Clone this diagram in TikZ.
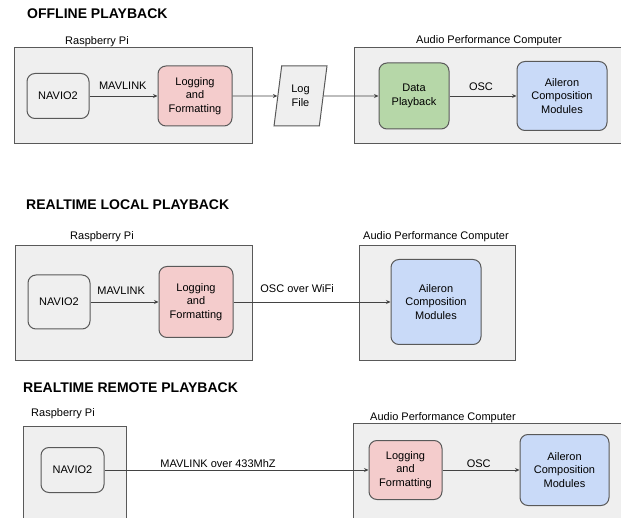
\documentclass[tikz,border=0pt]{standalone}
\usepackage{fontspec}
\setmainfont{Liberation Sans}
\usetikzlibrary{shapes.geometric,arrows.meta}
\definecolor{grpfill}{HTML}{EFEFEF}
\definecolor{edgec}{HTML}{595959}
\definecolor{linec}{HTML}{434343}
\definecolor{pinkf}{HTML}{F4CCCC}
\definecolor{greenf}{HTML}{B6D7A8}
\definecolor{bluef}{HTML}{C9DAF8}
\begin{document}
\begin{tikzpicture}[x=1pt,y=-1pt,
  txt/.style={font=\fontsize{11}{13.5}\selectfont},
  ttl/.style={font=\fontsize{14}{17}\selectfont\bfseries, anchor=base west, inner sep=0pt},
  glabel/.style={txt, anchor=base, inner sep=0pt},
  grp/.style={draw=edgec, fill=grpfill, line width=1pt, anchor=north west, inner sep=0pt},
  box/.style={draw=edgec, line width=1pt, rounded corners=8pt, align=center, txt, inner sep=0pt},
  plain/.style={box, fill=grpfill},
  pink/.style={box, fill=pinkf},
  green/.style={box, fill=greenf},
  blue/.style={box, fill=bluef},
  arr/.style={draw=linec, line width=0.9pt, -{Stealth[length=4.5pt,width=4pt]}},
  elbl/.style={txt, anchor=base, inner sep=0pt}]
\useasboundingbox (0,0) rectangle (621,518);
\clip (0,0) rectangle (621,518);

% ---------- Section 1 ----------
\node[ttl] (t1) at (27,19) {OFFLINE PLAYBACK};
\node[grp, minimum width=238pt, minimum height=96pt] (rpi1) at (14,47) {};
\node[glabel] (rpi1l) at (97,45) {Raspberry Pi};
\node[grp, minimum width=271pt, minimum height=96pt] (apc1) at (354,47) {};
\node[glabel] (apc1l) at (489,44) {Audio Performance Computer};
\node[plain, minimum width=62pt, minimum height=45pt] (nav1) at (58,96) {NAVIO2};
\node[pink, minimum width=74pt, minimum height=60pt] (log1) at (195,96) {Logging\\and\\Formatting};
\node[draw=edgec, fill=grpfill, line width=1pt, trapezium, trapezium left angle=80, trapezium right angle=100,
      trapezium stretches=true, minimum width=53pt, minimum height=60pt, align=center, txt, inner sep=0pt]
      (file1) at (300.5,96) {Log\\File};
\node[green, minimum width=70pt, minimum height=66pt] (dp1) at (414,96) {Data\\Playback};
\node[blue, minimum width=90pt, minimum height=69pt] (ail1) at (562,96) {Aileron\\Composition\\Modules};
\draw[arr] (nav1) -- node[elbl, pos=0.49, yshift=6pt] {MAVLINK} (log1);
\draw[arr] (log1) -- (file1);
\draw[arr] (file1) -- (dp1);
\draw[arr] (dp1) -- node[elbl, pos=0.47, yshift=5pt] {OSC} (ail1);

% ---------- Section 2 ----------
\node[ttl] (t2) at (26,210) {REALTIME LOCAL PLAYBACK};
\node[grp, minimum width=237pt, minimum height=115pt] (rpi2) at (15,245) {};
\node[glabel] (rpi2l) at (102,240) {Raspberry Pi};
\node[grp, minimum width=156pt, minimum height=115pt] (apc2) at (359,245) {};
\node[glabel] (apc2l) at (436,240) {Audio Performance Computer};
\node[plain, minimum width=62pt, minimum height=54pt] (nav2) at (59,302) {NAVIO2};
\node[pink, minimum width=74pt, minimum height=71pt] (log2) at (196,302) {Logging\\and\\Formatting};
\node[blue, minimum width=90pt, minimum height=85pt] (ail2) at (436,302) {Aileron\\Composition\\Modules};
\draw[arr] (nav2) -- node[elbl, pos=0.45, yshift=7pt] {MAVLINK} (log2);
\draw[arr] (log2) -- node[elbl, pos=0.405, yshift=9pt] {OSC over WiFi} (ail2);

% ---------- Section 3 ----------
\node[ttl] (t3) at (23,392) {REALTIME REMOTE PLAYBACK};
\node[grp, minimum width=103pt, minimum height=110pt] (rpi3) at (23,426) {};
\node[glabel] (rpi3l) at (63,417) {Raspberry Pi};
\node[grp, minimum width=272pt, minimum height=110pt] (apc3) at (353,423) {};
\node[glabel] (apc3l) at (443,420) {Audio Performance Computer};
\node[plain, minimum width=63pt, minimum height=45pt] (nav3) at (72.5,470) {NAVIO2};
\node[pink, minimum width=73pt, minimum height=59pt] (log3) at (405.5,470) {Logging\\and\\Formatting};
\node[blue, minimum width=89pt, minimum height=71pt] (ail3) at (564.5,470) {Aileron\\Composition\\Modules};
\draw[arr] (nav3) -- node[elbl, pos=0.43, yshift=3pt] {MAVLINK over 433MhZ} (log3);
\draw[arr] (log3) -- node[elbl, pos=0.47, yshift=3pt] {OSC} (ail3);
\end{tikzpicture}
\end{document}
